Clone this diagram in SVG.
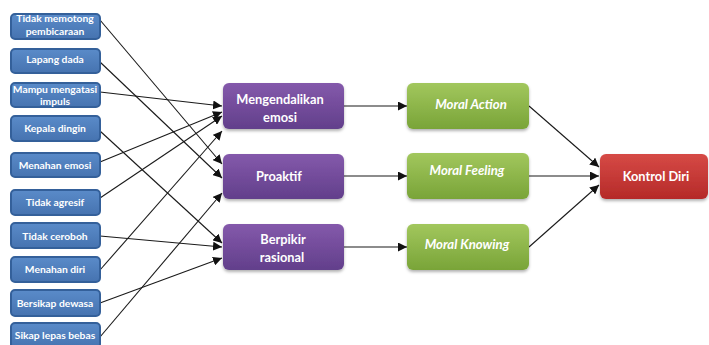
<svg xmlns="http://www.w3.org/2000/svg" width="709" height="345" viewBox="0 0 709 345">
<defs>
<linearGradient id="gBlue" x1="0" y1="0" x2="0" y2="1"><stop offset="0" stop-color="#5a8bc9"/><stop offset="1" stop-color="#4673b0"/></linearGradient>
<linearGradient id="gPurple" x1="0" y1="0" x2="0" y2="1"><stop offset="0" stop-color="#8459ab"/><stop offset="1" stop-color="#623f8b"/></linearGradient>
<linearGradient id="gGreen" x1="0" y1="0" x2="0" y2="1"><stop offset="0" stop-color="#a2c75d"/><stop offset="1" stop-color="#79a438"/></linearGradient>
<linearGradient id="gRed" x1="0" y1="0" x2="0" y2="1"><stop offset="0" stop-color="#d64a46"/><stop offset="1" stop-color="#b52a28"/></linearGradient>
<filter id="sh" x="-10%" y="-20%" width="120%" height="150%"><feDropShadow dx="0" dy="2" stdDeviation="1.5" flood-color="#000" flood-opacity="0.3"/></filter>
<marker id="ah" viewBox="0 0 10 10" refX="10" refY="5" markerWidth="9" markerHeight="9" markerUnits="userSpaceOnUse" orient="auto"><path d="M0,0 L10,5 L0,10 z" fill="#111"/></marker>
</defs>
<style>
.lb{fill:url(#gBlue);stroke:#34609a;stroke-width:2}
.pb{fill:url(#gPurple);filter:url(#sh)}
.gb{fill:url(#gGreen);filter:url(#sh)}
.rb{fill:url(#gRed);filter:url(#sh)}
text{font-family:Lato,"Open Sans","Liberation Sans",sans-serif;font-weight:bold;fill:#fff;text-anchor:middle}
.ls{font-size:10.3px}
.ms{font-size:12.8px}
.it{font-style:italic;font-size:13.2px}
.c{stroke:#1a1a1a;stroke-width:1.1;fill:none;marker-end:url(#ah)}
</style>
<rect width="709" height="345" fill="#fff"/>
<g id="connectors">
<line class="c" x1="100" y1="20" x2="222" y2="164"/>
<line class="c" x1="100" y1="62" x2="222" y2="178"/>
<line class="c" x1="100" y1="92" x2="222" y2="106"/>
<line class="c" x1="100" y1="131" x2="222" y2="243"/>
<line class="c" x1="100" y1="162" x2="222" y2="112"/>
<line class="c" x1="100" y1="198" x2="222" y2="116"/>
<line class="c" x1="100" y1="236" x2="222" y2="247"/>
<line class="c" x1="100" y1="270" x2="222" y2="131"/>
<line class="c" x1="100" y1="303" x2="222" y2="258"/>
<line class="c" x1="100" y1="337" x2="222" y2="193"/>
<line class="c" x1="344" y1="106" x2="407" y2="106"/>
<line class="c" x1="344" y1="176" x2="407" y2="176"/>
<line class="c" x1="344" y1="247" x2="407" y2="247"/>
<line class="c" x1="529" y1="106" x2="599" y2="167"/>
<line class="c" x1="529" y1="176" x2="599" y2="176"/>
<line class="c" x1="529" y1="247" x2="599" y2="185"/>
</g>
<g id="n1"><rect class="lb" x="11" y="14" width="89" height="25" rx="4"/><text class="ls" x="55" y="22">Tidak memotong</text><text class="ls" x="55" y="35">pembicaraan</text></g>
<g id="n2"><rect class="lb" x="11" y="49" width="89" height="24" rx="4"/><text class="ls" x="55" y="63">Lapang dada</text></g>
<g id="n3"><rect class="lb" x="11" y="83" width="89" height="24" rx="4"/><text class="ls" x="55" y="93">Mampu mengatasi</text><text class="ls" x="55" y="105">impuls</text></g>
<g id="n4"><rect class="lb" x="11" y="116" width="89" height="25" rx="4"/><text class="ls" x="55" y="132">Kepala dingin</text></g>
<g id="n5"><rect class="lb" x="11" y="153" width="89" height="24" rx="4"/><text class="ls" x="55" y="169">Menahan emosi</text></g>
<g id="n6"><rect class="lb" x="11" y="190" width="89" height="25" rx="4"/><text class="ls" x="55" y="206">Tidak agresif</text></g>
<g id="n7"><rect class="lb" x="11" y="223" width="89" height="25" rx="4"/><text class="ls" x="55" y="240">Tidak ceroboh</text></g>
<g id="n8"><rect class="lb" x="11" y="257" width="89" height="25" rx="4"/><text class="ls" x="55" y="273">Menahan diri</text></g>
<g id="n9"><rect class="lb" x="11" y="290" width="89" height="26" rx="4"/><text class="ls" x="55" y="307">Bersikap dewasa</text></g>
<g id="n10"><rect class="lb" x="11" y="323" width="89" height="25" rx="4"/><text class="ls" x="55" y="339">Sikap lepas bebas</text></g>
<g id="p1"><rect class="pb" x="223" y="83" width="121" height="46" rx="6"/><text class="ms" x="280" y="104">Mengendalikan</text><text class="ms" x="280" y="122">emosi</text></g>
<g id="p2"><rect class="pb" x="223" y="154" width="121" height="45" rx="6"/><text class="ms" x="279" y="181">Proaktif</text></g>
<g id="p3"><rect class="pb" x="223" y="224" width="121" height="46" rx="6"/><text class="ms" x="283" y="244">Berpikir</text><text class="ms" x="282" y="262">rasional</text></g>
<g id="g1"><rect class="gb" x="407" y="83" width="122" height="46" rx="6"/><text class="ms it" x="471" y="109">Moral Action</text></g>
<g id="g2"><rect class="gb" x="407" y="153" width="122" height="46" rx="6"/><text class="ms it" x="467" y="175">Moral Feeling</text></g>
<g id="g3"><rect class="gb" x="407" y="224" width="122" height="46" rx="6"/><text class="ms it" x="467" y="249">Moral Knowing</text></g>
<g id="r1"><rect class="rb" x="600" y="154" width="108" height="45" rx="6"/><text class="ms" x="656" y="181">Kontrol Diri</text></g>
</svg>
